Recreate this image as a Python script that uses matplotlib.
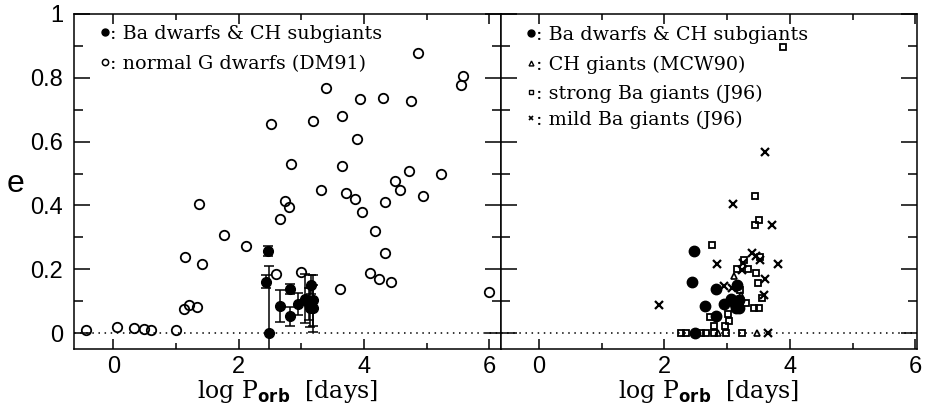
import matplotlib
matplotlib.use("Agg")
import matplotlib.pyplot as plt
from matplotlib.ticker import FuncFormatter
import numpy as np

plt.rcParams['font.family'] = 'DejaVu Serif'
plt.rcParams['mathtext.fontset'] = 'dejavusans'

# normal G dwarfs (DM91): log P, e
gd_logp = [-0.44, 0.06, 0.32, 0.49, 0.60, 1.00, 1.12, 1.21, 1.34, 1.14, 1.41, 1.37,
           1.76, 2.12, 2.59, 2.66, 2.74, 2.80, 2.99, 3.32, 3.61, 3.71, 3.85, 3.97,
           4.17, 4.34, 4.10, 4.23, 4.43, 4.33, 4.58, 4.49, 4.94, 4.86, 5.58, 5.54,
           3.39, 3.93, 4.30, 4.75, 2.51, 3.19, 3.64, 3.88, 2.83, 3.65, 4.72, 5.23, 6.00]
gd_e = [0.010, 0.020, 0.017, 0.014, 0.010, 0.010, 0.074, 0.089, 0.081, 0.237, 0.217, 0.405,
        0.306, 0.274, 0.185, 0.358, 0.415, 0.395, 0.190, 0.447, 0.138, 0.440, 0.420, 0.378,
        0.319, 0.250, 0.188, 0.169, 0.160, 0.411, 0.447, 0.477, 0.429, 0.877, 0.807, 0.778,
        0.768, 0.732, 0.738, 0.728, 0.655, 0.664, 0.681, 0.609, 0.531, 0.522, 0.508, 0.499, 0.128]

# Ba dwarfs & CH subgiants: log P, e, error
ba_logp = [2.47, 2.44, 2.49, 2.65, 2.82, 2.82, 2.95, 3.06, 3.12, 3.16, 3.19, 3.19, 3.14]
ba_e = [0.258, 0.161, 0.000, 0.085, 0.138, 0.052, 0.092, 0.107, 0.090, 0.152, 0.103, 0.077, 0.080]
ba_err = [0.016, 0.020, 0.210, 0.050, 0.017, 0.030, 0.035, 0.077, 0.050, 0.030, 0.080, 0.075, 0.060]

# CH giants (MCW90)
ch_logp = [2.85, 3.11, 3.47, 3.22]
ch_e = [0.000, 0.180, 0.000, 0.120]

# strong Ba giants (J96)
sb_logp = [3.89, 3.45, 3.50, 3.45, 2.76, 3.27, 3.16, 3.33, 3.46, 3.52, 3.49, 3.55,
           3.30, 3.42, 3.51, 3.01, 2.73, 3.03, 2.79, 2.96, 2.27, 2.34, 2.59, 2.67,
           2.79, 2.98, 3.24, 3.20]
sb_e = [0.897, 0.430, 0.355, 0.338, 0.277, 0.230, 0.200, 0.200, 0.188, 0.239, 0.158, 0.110,
        0.095, 0.080, 0.080, 0.059, 0.049, 0.039, 0.021, 0.021, 0.000, 0.000, 0.000, 0.000,
        0.000, 0.000, 0.000, 0.135]

# mild Ba giants (J96)
mb_logp = [3.60, 3.10, 3.72, 3.81, 2.83, 1.91, 3.65, 3.39, 3.46, 3.53, 3.24, 2.95,
           3.08, 3.59, 3.61, 3.25]
mb_e = [0.567, 0.406, 0.338, 0.217, 0.217, 0.088, 0.000, 0.250, 0.240, 0.230, 0.197, 0.148,
        0.140, 0.120, 0.168, 0.220]

fig = plt.figure(figsize=(9.25, 4.09), dpi=100)
axL = fig.add_axes([0.080, 0.1467, 0.4613, 0.8191])
axR = fig.add_axes([0.5413, 0.1467, 0.4497, 0.8191])

for ax in (axL, axR):
    ax.axhline(0, color='k', lw=1.1, ls=(0, (1, 3)))
    ax.set_ylim(-0.05, 1.0)
    ax.set_yticks(np.arange(0, 1.01, 0.2))
    ax.set_yticks(np.arange(0.1, 1.0, 0.2), minor=True)
    ax.yaxis.set_major_formatter(FuncFormatter(lambda v, p: f"{v:g}"))
    ax.set_xticks([0, 2, 4, 6])
    ax.set_xticks([1, 3, 5], minor=True)
    ax.tick_params(which='both', direction='in', top=True, right=True, width=1.1)
    ax.tick_params(axis='y', which='major', length=11.5)
    ax.tick_params(axis='y', which='minor', length=6.3)
    ax.tick_params(axis='x', which='major', length=7.5, pad=5)
    ax.tick_params(axis='x', which='minor', length=4.5)
    for lab in ax.get_xticklabels() + ax.get_yticklabels():
        lab.set_fontfamily('Liberation Sans')
        lab.set_fontsize(17)
    for sp in ax.spines.values():
        sp.set_linewidth(1.1)
    ax.set_xlabel(r'log P$_{\mathbf{orb}}$  [days]', fontsize=17, labelpad=0)

axL.set_xlim(-0.63, 6.18)
axR.set_xlim(-0.61, 6.02)
axL.tick_params(axis='y', pad=8)
axR.tick_params(axis='y', labelleft=False)
fig.text(0.017, 0.55, 'e', fontsize=23, family='Liberation Sans', ha='center', va='center')

# left panel
axL.plot(gd_logp, gd_e, 'o', mfc='none', mec='k', ms=6.8, mew=1.3, clip_on=False)
axL.errorbar(ba_logp, ba_e, yerr=ba_err, fmt='o', color='k', ms=7, capsize=3.5,
             elinewidth=1.1, capthick=1.1)

# right panel
axR.plot(sb_logp, sb_e, 's', mfc='none', mec='k', ms=5, mew=1.3)
axR.plot(mb_logp, mb_e, 'x', color='k', ms=5.5, mew=1.6)
axR.plot(ch_logp, ch_e, '^', mfc='none', mec='k', ms=5, mew=1.2)
axR.plot(ba_logp, ba_e, 'o', color='k', ms=7.5)

# legends drawn as marker + text
def legend_row(ax, y, marker, label, **kw):
    ax.plot([0.073], [y], marker, transform=ax.transAxes, color='k', clip_on=False, **kw)
    ax.text(0.085, y, ': ' + label, transform=ax.transAxes, fontsize=13.8,
            va='center_baseline', ha='left')

legend_row(axL, 0.945, 'o', 'Ba dwarfs & CH subgiants', ms=5)
legend_row(axL, 0.856, 'o', 'normal G dwarfs (DM91)', ms=4.5, mfc='none', mew=1.1)
legend_row(axR, 0.942, 'o', 'Ba dwarfs & CH subgiants', ms=5)
legend_row(axR, 0.853, '^', 'CH giants (MCW90)', ms=3.5, mfc='none', mew=1)
legend_row(axR, 0.768, 's', 'strong Ba giants (J96)', ms=3.5, mfc='none', mew=1)
legend_row(axR, 0.689, 'x', 'mild Ba giants (J96)', ms=3.5, mew=1.2)

fig.savefig('out.png', dpi=100)
